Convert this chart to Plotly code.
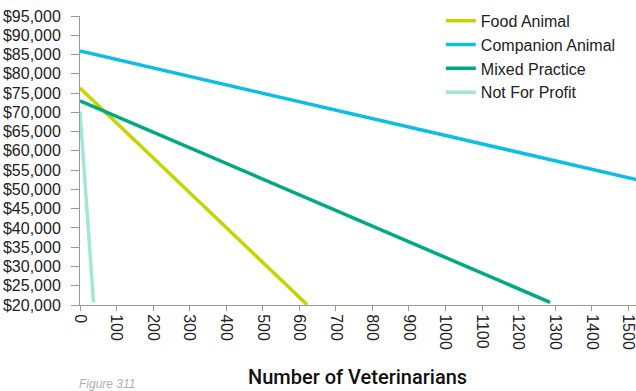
import plotly.graph_objects as go

series_names = ["Food Animal", "Companion Animal", "Mixed Practice", "Not For Profit"]
series_colors = ["#c5d500", "#0cbfe2", "#00a982", "#a2e6d8"]
food_x = [0, 621]
food_y = [76300, 20100]
companion_x = [0, 1525]
companion_y = [85900, 52500]
mixed_x = [0, 1286]
mixed_y = [73000, 20700]
nfp_x = [0, 37]
nfp_y = [70200, 20600]
y_ticks = list(range(20000, 95001, 5000))
x_ticks = list(range(0, 1501, 100))

xs = [food_x, companion_x, mixed_x, nfp_x]
ys = [food_y, companion_y, mixed_y, nfp_y]

fig = go.Figure()
for name, color, x, y in zip(series_names, series_colors, xs, ys):
    fig.add_trace(go.Scatter(x=x, y=y, mode="lines", name=name,
                             line=dict(color=color, width=3.5)))

font = "Liberation Sans, Arial, sans-serif"
fig.update_layout(
    width=636, height=391,
    margin=dict(l=80, r=0, t=16, b=86),
    paper_bgcolor="white", plot_bgcolor="white",
    font=dict(family=font, size=16, color="#222"),
    showlegend=True,
    legend=dict(x=0.649, y=1.042, xanchor="left", yanchor="top",
                font=dict(size=16, color="#222"), bgcolor="rgba(0,0,0,0)",
                tracegroupgap=0, itemwidth=30),
    xaxis=dict(range=[0, 1521], tickvals=x_ticks, ticktext=[str(v) for v in x_ticks],
               tickangle=90, showgrid=False, zeroline=False, showline=True,
               linecolor="#999", linewidth=1, ticks="outside", tickcolor="#999",
               ticklen=5, tickfont=dict(size=16, color="#222"),
               ticklabeloverflow="allow"),
    yaxis=dict(range=[20000, 95000], tickvals=y_ticks,
               ticktext=["${:,}".format(v) for v in y_ticks],
               showgrid=False, zeroline=False, showline=True,
               linecolor="#999", linewidth=1, ticks="outside", tickcolor="#999",
               ticklen=8, ticklabelstandoff=7, tickfont=dict(size=16, color="#222"),
               ticklabeloverflow="allow"),
    annotations=[
        dict(text="Number of Veterinarians", xref="paper", yref="paper",
             x=0.499, y=-0.248, xanchor="center", yanchor="middle", showarrow=False,
             font=dict(size=20, color="#111", family="Roboto, Liberation Sans, sans-serif",
                       weight=500)),
        dict(text="<i>Figure 311</i>", xref="paper", yref="paper",
             x=-0.006, y=-0.272, xanchor="left", yanchor="middle", showarrow=False,
             font=dict(size=12, color="#b0b0b0", family=font)),
    ],
)
fig.write_html("out.html")
